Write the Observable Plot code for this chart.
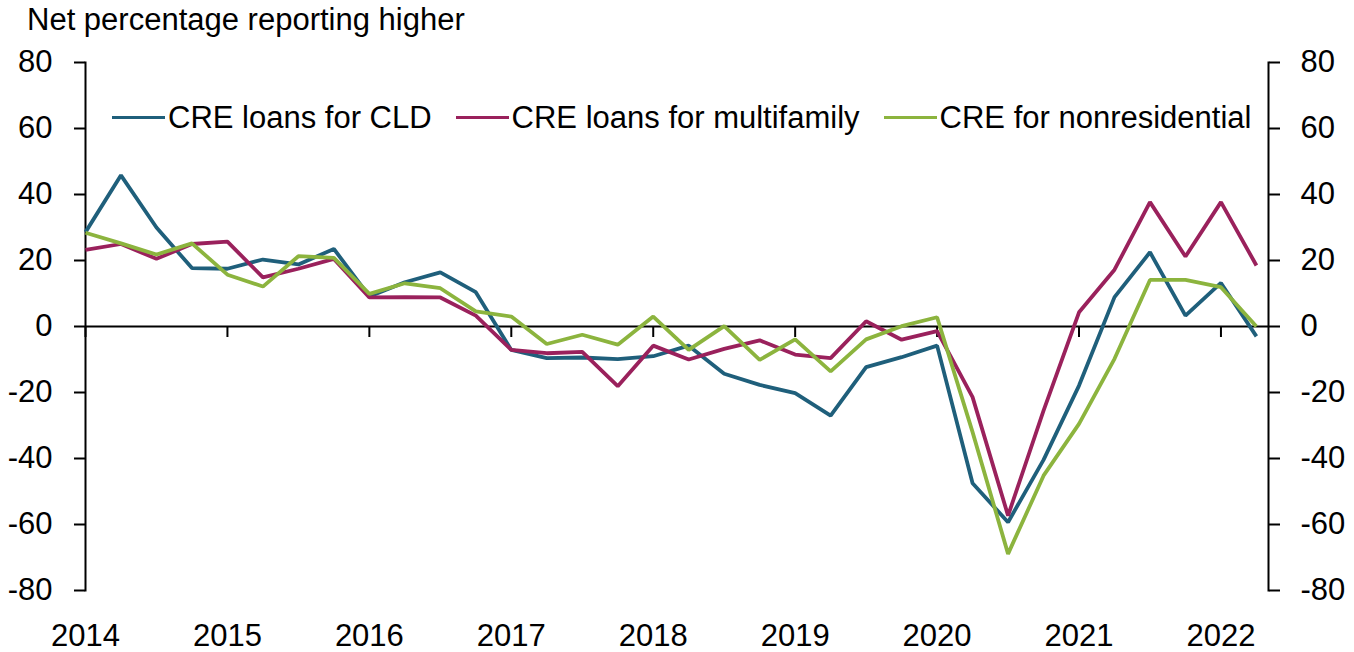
<!DOCTYPE html>
<html><head><meta charset="utf-8">
<script src="https://cdn.jsdelivr.net/npm/d3@7"></script>
<script src="https://cdn.jsdelivr.net/npm/@observablehq/plot@0.6"></script>
<style>
body{margin:0;background:#fff;font-family:"Liberation Sans",Arial,sans-serif;}
#wrap{position:relative;width:1354px;height:652px;overflow:hidden;}
#title{box-sizing:border-box;height:40px;padding-top:4px;padding-left:27px;font-size:31px;line-height:31px;color:#000;white-space:nowrap;}
#legend{position:absolute;left:112px;top:102px;display:flex;align-items:center;font-size:31px;line-height:31px;color:#000;white-space:nowrap;}
.item{display:flex;align-items:center;margin-right:24px;}
.swatch{width:53px;height:3.5px;margin-right:3px;}
</style></head>
<body>
<div id="wrap">
  <div id="title">Net percentage reporting higher</div>
  <div id="chart"></div>
  <div id="legend"></div>
</div>
<script>
const quarters = ["2014Q1","2014Q2","2014Q3","2014Q4","2015Q1","2015Q2","2015Q3","2015Q4",
  "2016Q1","2016Q2","2016Q3","2016Q4","2017Q1","2017Q2","2017Q3","2017Q4",
  "2018Q1","2018Q2","2018Q3","2018Q4","2019Q1","2019Q2","2019Q3","2019Q4",
  "2020Q1","2020Q2","2020Q3","2020Q4","2021Q1","2021Q2","2021Q3","2021Q4",
  "2022Q1","2022Q2"];
const cld = [28.6,45.8,30,17.7,17.5,20.3,18.8,23.5,9.1,13.4,16.4,10.4,-7.1,-9.6,-9.4,-9.9,-9.0,-5.8,-14.3,-17.7,-20.2,-27,-12.3,-9.3,-5.8,-47.5,-59.3,-40.4,-17.9,8.9,22.5,3.3,13.2,-3.0];
const multifamily = [23.2,25,20.5,25,25.7,14.9,17.5,20.5,8.8,8.9,8.8,3.3,-7.1,-8.1,-7.7,-18.1,-5.8,-10,-6.8,-4.2,-8.5,-9.6,1.6,-4.0,-1.4,-21.4,-57.3,-25.5,4.3,17.2,37.7,21.2,37.7,18.5];
const nonresidential = [28.4,25.2,21.8,25.2,15.7,12.1,21.3,20.8,9.9,13.1,11.6,4.6,3.0,-5.3,-2.5,-5.5,3.0,-7.1,0.1,-10.1,-3.9,-13.6,-3.9,0.1,2.8,-32,-68.9,-45.2,-29.5,-9.8,14.1,14.1,11.9,0];
const seriesNames = ["CRE loans for CLD","CRE loans for multifamily","CRE for nonresidential"];
const seriesColors = ["#1f5f7b","#9a215c","#8cb43e"];
const yTicks = [-80,-60,-40,-20,0,20,40,60,80];
const yearTicks = [2014,2015,2016,2017,2018,2019,2020,2021,2022];
const xDomain = [2014, 2022.335];
const yDomain = [-80, 80];

const toX = q => +q.slice(0,4) + (+q.slice(5) - 1) / 4;
const seriesValues = [cld, multifamily, nonresidential];
const data = [];
seriesValues.forEach((vals, s) => vals.forEach((v, i) => data.push({series: seriesNames[s], x: toX(quarters[i]), y: v})));

const tickLen = 11 * (yDomain[1] - yDomain[0]) / 528;
const font = {fontSize: 31, fontFamily: "Liberation Sans, Arial, sans-serif"};

const chart = Plot.plot({
  width: 1354,
  height: 612,
  marginLeft: 85,
  marginRight: 86,
  marginTop: 22,
  marginBottom: 62,
  style: {fontFamily: "Liberation Sans, Arial, sans-serif", fontSize: "31px", color: "#000", background: "#fff"},
  x: {domain: xDomain, type: "linear"},
  y: {domain: yDomain},
  color: {domain: seriesNames, range: seriesColors},
  marks: [
    Plot.axisY({anchor: "left", ticks: yTicks, tickSize: 11, tickPadding: 22, tickFormat: d => String(d), strokeWidth: 2, label: null, ...font}),
    Plot.axisY({anchor: "right", ticks: yTicks, tickSize: 11, tickPadding: 21, tickFormat: d => String(d), strokeWidth: 2, label: null, ...font}),
    Plot.axisX({anchor: "bottom", ticks: yearTicks, tickSize: 0, tickPadding: 33, tickFormat: d => String(d), label: null, ...font}),
    Plot.frame({anchor: "left", stroke: "#000", strokeWidth: 2}),
    Plot.frame({anchor: "right", stroke: "#000", strokeWidth: 2}),
    Plot.ruleY([0], {stroke: "#000", strokeWidth: 2}),
    Plot.ruleX(yearTicks, {x: d => d, y1: 0, y2: -tickLen, stroke: "#000", strokeWidth: 2}),
    Plot.line(data, {x: "x", y: "y", z: "series", stroke: "series", strokeWidth: 3.8, strokeLinejoin: "miter", strokeLinecap: "butt"})
  ]
});
document.getElementById("chart").appendChild(chart);

const legend = document.getElementById("legend");
seriesNames.forEach((name, i) => {
  const item = document.createElement("div");
  item.className = "item";
  const sw = document.createElement("span");
  sw.className = "swatch";
  sw.style.background = seriesColors[i];
  const t = document.createElement("span");
  t.textContent = name;
  item.appendChild(sw); item.appendChild(t);
  legend.appendChild(item);
});
</script>
</body></html>
